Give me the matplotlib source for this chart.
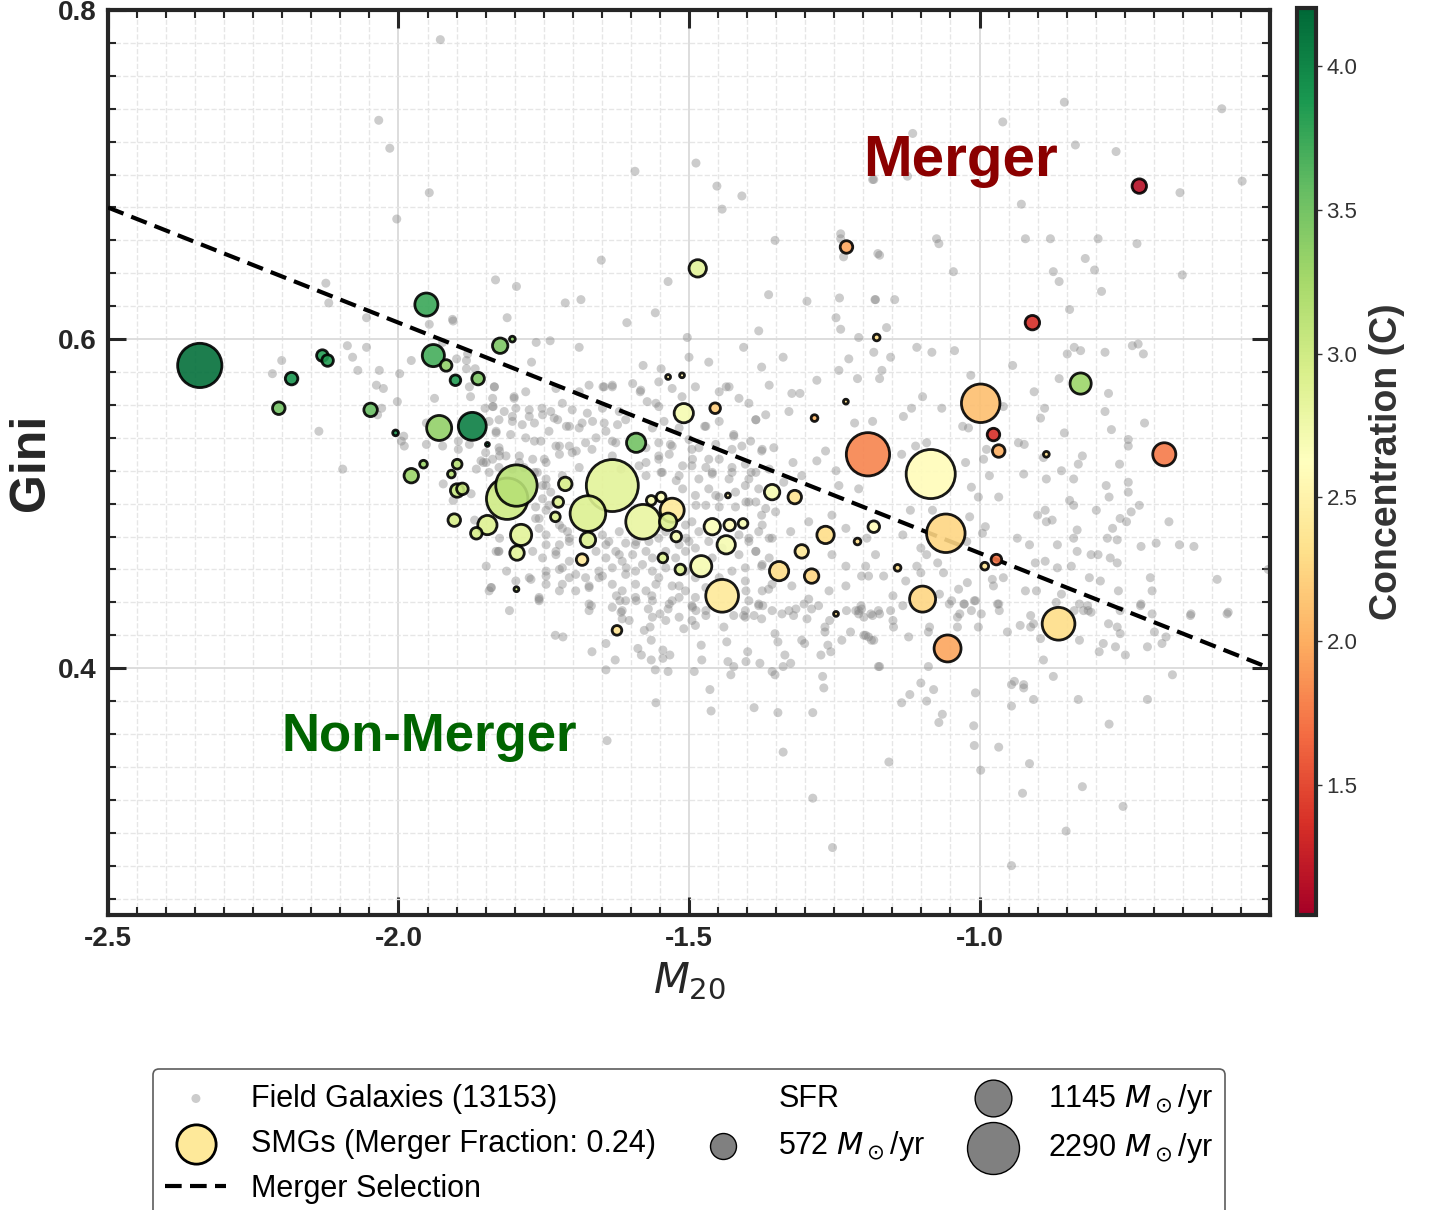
import numpy as np
import matplotlib
matplotlib.use('Agg')
import matplotlib.pyplot as plt
from matplotlib.lines import Line2D
from matplotlib.ticker import MultipleLocator

plt.rcParams['font.family'] = ['Liberation Sans', 'DejaVu Sans']
plt.rcParams['axes.unicode_minus'] = False
plt.rcParams['mathtext.fontset'] = 'dejavusans'

# field galaxies (M20, Gini)
field_xy = [
    (-1.928, 0.782), (-2.034, 0.733), (-2.015, 0.716), (-1.947, 0.689), (-2.003, 0.673),
    (-1.833, 0.636), (-2.125, 0.634), (-2.120, 0.622), (-2.055, 0.613), (-1.907, 0.612),
    (-1.593, 0.702), (-1.488, 0.707), (-1.452, 0.693), (-1.409, 0.687), (-1.443, 0.679),
    (-1.184, 0.697), (-1.651, 0.648), (-1.352, 0.660), (-1.239, 0.664), (-1.239, 0.661),
    (-1.234, 0.650), (-1.175, 0.652), (-1.797, 0.632), (-1.536, 0.635), (-1.713, 0.622),
    (-1.686, 0.624), (-1.558, 0.616), (-1.813, 0.613), (-1.363, 0.627), (-1.297, 0.623),
    (-1.241, 0.625), (-1.180, 0.624), (-1.247, 0.613),
    (-0.854, 0.744), (-0.583, 0.740), (-0.960, 0.732), (-1.115, 0.725), (-0.835, 0.718),
    (-0.765, 0.714), (-1.182, 0.697), (-1.124, 0.699), (-0.548, 0.696), (-0.655, 0.689),
    (-0.928, 0.682), (-1.074, 0.661), (-1.070, 0.658), (-0.921, 0.661), (-0.878, 0.661),
    (-0.796, 0.661), (-0.729, 0.658), (-1.172, 0.651), (-0.818, 0.649), (-1.045, 0.641),
    (-0.873, 0.641), (-0.802, 0.642), (-0.863, 0.635), (-0.651, 0.639), (-0.790, 0.629),
    (-1.179, 0.624), (-1.146, 0.624), (-0.845, 0.618),
    (-1.906, 0.611), (-1.947, 0.609), (-2.088, 0.596), (-2.055, 0.595), (-2.079, 0.589),
    (-2.201, 0.587), (-1.978, 0.587), (-1.900, 0.588), (-1.883, 0.587), (-1.924, 0.598),
    (-1.881, 0.591), (-2.217, 0.579), (-2.070, 0.581), (-2.033, 0.581), (-1.998, 0.579),
    (-1.883, 0.582), (-1.868, 0.582), (-2.038, 0.572), (-2.026, 0.570), (-1.878, 0.571),
    (-1.876, 0.565), (-2.002, 0.562), (-1.938, 0.564), (-1.851, 0.558), (-1.838, 0.559),
    (-2.029, 0.558), (-2.036, 0.554), (-2.137, 0.544), (-1.991, 0.541), (-1.995, 0.538),
    (-1.990, 0.535), (-1.952, 0.536), (-1.924, 0.535), (-1.897, 0.538), (-1.897, 0.533),
    (-1.878, 0.536), (-1.832, 0.544), (-1.826, 0.532), (-1.854, 0.525), (-2.096, 0.521),
    (-1.866, 0.521), (-1.844, 0.519), (-1.923, 0.512), (-1.875, 0.506), (-1.906, 0.502),
    (-1.869, 0.490), (-1.828, 0.471), (-1.840, 0.449), (-1.952, 0.549), (-1.835, 0.510),
    (-1.607, 0.610), (-1.380, 0.605), (-1.239, 0.606), (-1.763, 0.598), (-1.739, 0.599),
    (-1.689, 0.595), (-1.503, 0.601), (-1.406, 0.595), (-1.208, 0.601), (-1.500, 0.589),
    (-1.338, 0.589), (-1.225, 0.588), (-1.771, 0.586), (-1.579, 0.584), (-1.548, 0.582),
    (-1.466, 0.586), (-1.375, 0.583), (-1.242, 0.581), (-1.210, 0.576), (-1.835, 0.571),
    (-1.801, 0.564), (-1.837, 0.559), (-1.804, 0.553), (-1.775, 0.553), (-1.753, 0.558),
    (-1.732, 0.552), (-1.711, 0.547), (-1.684, 0.549), (-1.646, 0.549), (-1.632, 0.571),
    (-1.648, 0.571), (-1.584, 0.568), (-1.552, 0.559), (-1.512, 0.565), (-1.473, 0.547),
    (-1.436, 0.571), (-1.385, 0.551), (-1.323, 0.567), (-1.309, 0.567), (-1.280, 0.575),
    (-1.215, 0.549), (-1.328, 0.556), (-1.423, 0.541), (-1.409, 0.535), (-1.375, 0.532),
    (-1.321, 0.525), (-1.280, 0.526), (-1.265, 0.532), (-1.723, 0.535), (-1.766, 0.538),
    (-1.826, 0.529), (-1.849, 0.525), (-1.792, 0.529), (-1.749, 0.527), (-1.694, 0.532),
    (-1.667, 0.533), (-1.632, 0.529), (-1.552, 0.529), (-1.529, 0.535), (-1.495, 0.533),
    (-1.466, 0.527), (-1.548, 0.519), (-1.586, 0.523), (-1.632, 0.538), (-1.617, 0.521),
    (-1.522, 0.514), (-1.495, 0.523), (-1.460, 0.519), (-1.426, 0.519), (-1.393, 0.519),
    (-1.337, 0.513), (-1.306, 0.517), (-1.247, 0.520), (-1.242, 0.511), (-1.208, 0.509),
    (-1.454, 0.505), (-1.402, 0.501), (-1.385, 0.501), (-1.375, 0.493), (-1.488, 0.499),
    (-1.761, 0.519), (-1.746, 0.511), (-1.741, 0.499), (-1.758, 0.491), (-1.718, 0.485),
    (-1.706, 0.479), (-1.729, 0.471), (-1.643, 0.475), (-1.620, 0.469), (-1.591, 0.477),
    (-1.574, 0.471), (-1.608, 0.461), (-1.552, 0.455), (-1.517, 0.450), (-1.505, 0.479),
    (-1.495, 0.489), (-1.397, 0.479), (-1.385, 0.471), (-1.375, 0.462), (-1.357, 0.479),
    (-1.325, 0.483), (-1.294, 0.489), (-1.254, 0.493), (-1.230, 0.485), (-1.194, 0.479),
    (-1.179, 0.469), (-1.230, 0.462), (-1.254, 0.469), (-1.203, 0.456), (-1.230, 0.450),
    (-1.259, 0.447), (-1.294, 0.442), (-1.323, 0.450), (-1.363, 0.448), (-1.402, 0.447),
    (-1.380, 0.438), (-1.328, 0.435), (-1.277, 0.438), (-1.208, 0.435), (-1.844, 0.447),
    (-1.814, 0.459), (-1.775, 0.455), (-1.746, 0.456), (-1.723, 0.447), (-1.706, 0.455),
    (-1.672, 0.450), (-1.649, 0.456), (-1.625, 0.444), (-1.591, 0.441), (-1.564, 0.444),
    (-1.529, 0.441), (-1.495, 0.438), (-1.758, 0.442), (-1.672, 0.435), (-1.615, 0.435),
    (-1.809, 0.435), (-1.849, 0.462), (-1.832, 0.471), (-1.826, 0.479),
    (-1.160, 0.607), (-1.182, 0.592), (-1.153, 0.589), (-1.108, 0.595), (-1.082, 0.592),
    (-1.043, 0.593), (-0.837, 0.595), (-0.826, 0.593), (-0.849, 0.591), (-0.784, 0.592),
    (-0.737, 0.596), (-0.727, 0.597), (-0.718, 0.591), (-0.943, 0.584), (-0.863, 0.576),
    (-0.906, 0.568), (-0.778, 0.567), (-1.168, 0.581), (-1.172, 0.576), (-1.098, 0.565),
    (-1.015, 0.578), (-1.117, 0.558), (-1.065, 0.558), (-1.131, 0.553), (-1.184, 0.550),
    (-1.029, 0.547), (-1.019, 0.546), (-0.959, 0.559), (-0.888, 0.558), (-0.895, 0.552),
    (-0.784, 0.556), (-0.854, 0.543), (-0.773, 0.545), (-0.716, 0.549), (-0.744, 0.539),
    (-0.744, 0.535), (-0.933, 0.537), (-0.923, 0.536), (-1.110, 0.535), (-1.091, 0.537),
    (-1.134, 0.530), (-0.988, 0.533), (-0.993, 0.527), (-1.024, 0.525), (-0.890, 0.528),
    (-0.823, 0.529), (-0.830, 0.524), (-0.759, 0.524), (-0.859, 0.520), (-0.924, 0.518),
    (-0.983, 0.517), (-0.885, 0.515), (-0.838, 0.515), (-0.744, 0.513), (-0.744, 0.507),
    (-0.782, 0.511), (-0.777, 0.504), (-1.014, 0.510), (-0.967, 0.504), (-1.002, 0.504),
    (-1.119, 0.496), (-1.081, 0.496), (-0.887, 0.496), (-0.845, 0.502), (-0.838, 0.499),
    (-0.799, 0.496), (-0.739, 0.495), (-0.725, 0.499), (-0.900, 0.493), (-0.875, 0.490),
    (-0.885, 0.489), (-0.832, 0.484), (-0.758, 0.491), (-0.747, 0.489), (-0.771, 0.485),
    (-0.674, 0.489), (-1.017, 0.492), (-0.990, 0.486), (-0.995, 0.482), (-1.022, 0.477),
    (-0.935, 0.479), (-0.914, 0.475), (-0.866, 0.475), (-0.838, 0.479), (-0.780, 0.479),
    (-0.763, 0.478), (-0.722, 0.474), (-0.696, 0.476), (-0.656, 0.475), (-0.631, 0.474),
    (-0.808, 0.469), (-0.796, 0.469), (-0.775, 0.467), (-0.763, 0.464), (-0.832, 0.471),
    (-0.866, 0.461), (-0.904, 0.464), (-0.887, 0.465), (-0.842, 0.462), (-0.811, 0.455),
    (-0.792, 0.453), (-0.706, 0.455), (-0.591, 0.454), (-0.503, 0.460), (-1.132, 0.481),
    (-1.101, 0.473), (-1.091, 0.469), (-1.072, 0.464), (-1.127, 0.453), (-1.165, 0.456),
    (-1.191, 0.456), (-1.196, 0.462), (-1.108, 0.462), (-1.101, 0.458), (-1.062, 0.458),
    (-1.036, 0.448), (-1.021, 0.452), (-0.978, 0.454), (-0.959, 0.455), (-1.007, 0.441),
    (-0.976, 0.450), (-0.921, 0.447), (-0.902, 0.447), (-0.859, 0.445), (-0.828, 0.439),
    (-0.813, 0.435), (-0.761, 0.447), (-0.703, 0.447), (-0.722, 0.439), (-0.636, 0.433),
    (-0.572, 0.434), (-1.069, 0.445), (-1.052, 0.439), (-1.026, 0.439), (-0.969, 0.439),
    (-1.149, 0.444), (-1.132, 0.438), (-1.174, 0.435), (-1.208, 0.433), (-1.034, 0.433),
    (-1.203, 0.436), (-1.184, 0.432), (-1.172, 0.433), (-1.153, 0.435), (-1.149, 0.429),
    (-1.148, 0.425), (-1.199, 0.420), (-1.191, 0.419), (-1.182, 0.417), (-1.122, 0.419),
    (-1.086, 0.425), (-1.088, 0.422), (-1.048, 0.441), (-1.027, 0.439), (-1.014, 0.435),
    (-1.009, 0.441), (-0.997, 0.433), (-1.038, 0.431), (-1.038, 0.425), (-1.002, 0.425),
    (-0.967, 0.439), (-0.966, 0.435), (-0.952, 0.422), (-0.930, 0.426), (-0.912, 0.432),
    (-0.907, 0.427), (-0.912, 0.425), (-0.895, 0.418), (-0.868, 0.440), (-0.837, 0.435),
    (-0.821, 0.435), (-0.808, 0.434), (-0.828, 0.417), (-0.814, 0.438), (-0.778, 0.427),
    (-0.763, 0.425), (-0.758, 0.421), (-0.787, 0.415), (-0.766, 0.413), (-0.749, 0.408),
    (-0.794, 0.410), (-0.758, 0.435), (-0.723, 0.438), (-0.703, 0.433), (-0.699, 0.422),
    (-0.679, 0.419), (-0.686, 0.415), (-0.711, 0.413), (-0.637, 0.432), (-0.574, 0.433),
    (-0.890, 0.405), (-1.172, 0.401), (-1.088, 0.401), (-0.873, 0.395), (-0.668, 0.396),
    (-1.101, 0.391), (-1.079, 0.387), (-1.120, 0.384), (-1.134, 0.379), (-1.091, 0.380),
    (-1.007, 0.385), (-0.945, 0.390), (-0.940, 0.392), (-0.924, 0.390), (-0.924, 0.388),
    (-0.907, 0.381), (-0.830, 0.381), (-0.711, 0.381), (-0.945, 0.377), (-1.064, 0.372),
    (-1.070, 0.367), (-1.010, 0.365), (-0.777, 0.366), (-1.009, 0.353), (-0.967, 0.352),
    (-1.156, 0.343), (-0.914, 0.342), (-0.998, 0.338), (-0.823, 0.328), (-0.926, 0.324),
    (-0.753, 0.316), (-0.851, 0.301), (-0.945, 0.280),
    (-1.758, 0.441), (-1.668, 0.438), (-1.619, 0.441), (-1.570, 0.436), (-1.550, 0.433),
    (-1.536, 0.436), (-1.617, 0.434), (-1.615, 0.430), (-1.730, 0.420), (-1.717, 0.419),
    (-1.667, 0.410), (-1.643, 0.415), (-1.627, 0.405), (-1.643, 0.399), (-1.577, 0.423),
    (-1.567, 0.425), (-1.588, 0.412), (-1.582, 0.408), (-1.565, 0.417), (-1.565, 0.405),
    (-1.558, 0.399), (-1.545, 0.411), (-1.545, 0.406), (-1.533, 0.408), (-1.536, 0.398),
    (-1.509, 0.424), (-1.495, 0.429), (-1.488, 0.435), (-1.479, 0.414), (-1.478, 0.405),
    (-1.491, 0.398), (-1.464, 0.387), (-1.462, 0.374), (-1.471, 0.432), (-1.440, 0.425),
    (-1.435, 0.416), (-1.433, 0.404), (-1.423, 0.401), (-1.428, 0.396), (-1.402, 0.404),
    (-1.399, 0.410), (-1.423, 0.432), (-1.406, 0.432), (-1.388, 0.432), (-1.375, 0.430),
    (-1.397, 0.441), (-1.373, 0.438), (-1.378, 0.403), (-1.357, 0.398), (-1.352, 0.396),
    (-1.352, 0.421), (-1.347, 0.416), (-1.338, 0.401), (-1.335, 0.408), (-1.325, 0.403),
    (-1.340, 0.433), (-1.320, 0.432), (-1.316, 0.436), (-1.302, 0.439), (-1.297, 0.430),
    (-1.289, 0.436), (-1.306, 0.417), (-1.301, 0.415), (-1.273, 0.408), (-1.266, 0.425),
    (-1.266, 0.422), (-1.261, 0.414), (-1.256, 0.410), (-1.258, 0.429), (-1.237, 0.417),
    (-1.222, 0.422), (-1.229, 0.435), (-1.213, 0.435), (-1.204, 0.438), (-1.199, 0.431),
    (-1.187, 0.433), (-1.196, 0.420), (-1.186, 0.417), (-1.174, 0.401), (-1.270, 0.395),
    (-1.268, 0.388), (-1.388, 0.376), (-1.347, 0.373), (-1.287, 0.373), (-1.338, 0.349),
    (-1.287, 0.321), (-1.253, 0.291), (-1.557, 0.379), (-1.641, 0.356),
]

# extra field galaxies in the crowded core
field_core = [
    (-1.835, 0.571), (-1.801, 0.565), (-1.781, 0.568), (-1.729, 0.570), (-1.689, 0.568),
    (-1.672, 0.572), (-1.646, 0.571), (-1.632, 0.572), (-1.597, 0.573), (-1.583, 0.569),
    (-1.552, 0.574), (-1.572, 0.562), (-1.557, 0.561), (-1.529, 0.570), (-1.489, 0.571),
    (-1.448, 0.568), (-1.431, 0.571), (-1.414, 0.564), (-1.397, 0.561), (-1.362, 0.572),
    (-1.818, 0.556), (-1.798, 0.558), (-1.775, 0.557), (-1.752, 0.554), (-1.738, 0.556),
    (-1.718, 0.561), (-1.701, 0.557), (-1.675, 0.555), (-1.649, 0.558), (-1.620, 0.556),
    (-1.838, 0.564), (-1.844, 0.550), (-1.827, 0.551), (-1.804, 0.550), (-1.787, 0.548),
    (-1.766, 0.549), (-1.741, 0.544), (-1.726, 0.551), (-1.706, 0.547), (-1.689, 0.546),
    (-1.666, 0.550), (-1.643, 0.544), (-1.623, 0.548), (-1.609, 0.551), (-1.563, 0.546),
    (-1.543, 0.550), (-1.517, 0.546), (-1.471, 0.547), (-1.448, 0.550), (-1.423, 0.542),
    (-1.385, 0.551), (-1.368, 0.554), (-1.832, 0.543), (-1.807, 0.542), (-1.781, 0.540),
    (-1.755, 0.538), (-1.729, 0.535), (-1.706, 0.535), (-1.678, 0.537), (-1.660, 0.540),
    (-1.626, 0.537), (-1.574, 0.534), (-1.552, 0.537), (-1.532, 0.536), (-1.500, 0.539),
    (-1.483, 0.534), (-1.454, 0.536), (-1.426, 0.533), (-1.394, 0.538), (-1.374, 0.533),
    (-1.354, 0.534), (-1.850, 0.531), (-1.827, 0.534), (-1.858, 0.526), (-1.838, 0.527),
    (-1.815, 0.529), (-1.792, 0.525), (-1.769, 0.527), (-1.746, 0.525), (-1.723, 0.530),
    (-1.701, 0.531), (-1.689, 0.522), (-1.718, 0.517), (-1.746, 0.515), (-1.766, 0.519),
    (-1.784, 0.522), (-1.804, 0.521), (-1.827, 0.522), (-1.574, 0.525), (-1.552, 0.527),
    (-1.534, 0.530), (-1.511, 0.523), (-1.494, 0.527), (-1.471, 0.522), (-1.448, 0.527),
    (-1.426, 0.522), (-1.403, 0.524), (-1.385, 0.519), (-1.362, 0.521), (-1.574, 0.517),
    (-1.546, 0.519), (-1.517, 0.517), (-1.483, 0.515), (-1.460, 0.518), (-1.431, 0.515),
    (-1.397, 0.515), (-1.752, 0.511), (-1.738, 0.507), (-1.752, 0.503), (-1.764, 0.498),
    (-1.746, 0.496), (-1.511, 0.509), (-1.489, 0.505), (-1.466, 0.509), (-1.448, 0.504),
    (-1.420, 0.507), (-1.403, 0.511), (-1.380, 0.509), (-1.471, 0.499), (-1.448, 0.498),
    (-1.420, 0.498), (-1.397, 0.501), (-1.368, 0.497), (-1.351, 0.495), (-1.764, 0.491),
    (-1.758, 0.485), (-1.746, 0.481), (-1.723, 0.487), (-1.709, 0.483), (-1.706, 0.477),
    (-1.746, 0.475), (-1.723, 0.475), (-1.649, 0.481), (-1.638, 0.477), (-1.620, 0.483),
    (-1.609, 0.476), (-1.592, 0.475), (-1.569, 0.477), (-1.552, 0.479), (-1.540, 0.483),
    (-1.517, 0.475), (-1.500, 0.477), (-1.483, 0.483), (-1.466, 0.477), (-1.414, 0.481),
    (-1.397, 0.477), (-1.380, 0.483), (-1.362, 0.479), (-1.374, 0.487), (-1.506, 0.487),
    (-1.827, 0.471), (-1.769, 0.471), (-1.752, 0.467), (-1.729, 0.469), (-1.706, 0.465),
    (-1.718, 0.461), (-1.660, 0.471), (-1.643, 0.467), (-1.626, 0.471), (-1.615, 0.465),
    (-1.597, 0.469), (-1.580, 0.463), (-1.563, 0.467), (-1.540, 0.471), (-1.523, 0.467),
    (-1.506, 0.471), (-1.489, 0.473), (-1.460, 0.467), (-1.443, 0.473), (-1.414, 0.469),
    (-1.385, 0.471), (-1.362, 0.467), (-1.746, 0.459), (-1.723, 0.460), (-1.695, 0.457),
    (-1.678, 0.455), (-1.655, 0.459), (-1.632, 0.461), (-1.609, 0.457), (-1.592, 0.459),
    (-1.563, 0.459), (-1.540, 0.461), (-1.506, 0.459), (-1.489, 0.455), (-1.448, 0.455),
    (-1.426, 0.459), (-1.403, 0.461), (-1.374, 0.463), (-1.841, 0.449), (-1.798, 0.453),
    (-1.772, 0.454), (-1.758, 0.443), (-1.746, 0.451), (-1.718, 0.451), (-1.695, 0.447),
    (-1.672, 0.449), (-1.655, 0.455), (-1.632, 0.451), (-1.615, 0.447), (-1.592, 0.451),
    (-1.574, 0.447), (-1.557, 0.451), (-1.529, 0.450), (-1.506, 0.447), (-1.489, 0.443),
    (-1.471, 0.449), (-1.403, 0.453), (-1.374, 0.447), (-1.357, 0.451), (-1.672, 0.439),
    (-1.632, 0.437), (-1.609, 0.441), (-1.592, 0.443), (-1.563, 0.441), (-1.534, 0.439),
    (-1.517, 0.443), (-1.494, 0.437), (-1.471, 0.435), (-1.403, 0.435), (-1.380, 0.439),
    (-1.357, 0.435), (-1.603, 0.429), (-1.563, 0.431), (-1.540, 0.429), (-1.517, 0.431),
    (-1.489, 0.426), (-1.403, 0.431),
]
n_field = 13153

# SMGs: M20, Gini, concentration and SFR (Msun/yr)
smg_m20 = [-2.342, -1.952, -1.485, -1.229, -0.725, -2.131, -2.122, -2.184, -2.206, -2.048,
           -2.005, -1.940, -1.918, -1.902, -1.863, -1.825, -1.804, -1.930, -1.873, -1.847,
           -1.957, -1.978, -1.899, -1.909, -1.899, -1.890, -1.904, -1.866, -1.847, -1.797,
           -1.813, -1.789, -1.796, -1.797, -1.713, -1.725, -1.730, -1.674, -1.674, -1.684,
           -1.632, -1.591, -1.579, -1.565, -1.548, -1.529, -1.536, -1.522, -1.545, -1.515,
           -1.509, -1.536, -1.512, -1.455, -1.479, -1.443, -1.460, -1.430, -1.407, -1.436,
           -1.433, -1.357, -1.318, -1.265, -1.306, -1.345, -1.289, -1.210, -1.284, -1.230,
           -1.192, -1.177, -1.182, -1.247, -0.909, -0.826, -0.998, -0.976, -0.967, -0.885,
           -0.682, -1.084, -1.058, -1.141, -0.991, -0.971, -1.098, -0.864, -1.055, -1.624]
smg_gini = [0.584, 0.621, 0.643, 0.656, 0.693, 0.590, 0.587, 0.576, 0.558, 0.557,
            0.543, 0.590, 0.584, 0.575, 0.576, 0.596, 0.600, 0.546, 0.547, 0.536,
            0.524, 0.517, 0.524, 0.518, 0.508, 0.509, 0.490, 0.482, 0.487, 0.511,
            0.503, 0.481, 0.470, 0.448, 0.512, 0.501, 0.492, 0.494, 0.478, 0.466,
            0.511, 0.537, 0.489, 0.502, 0.504, 0.496, 0.489, 0.480, 0.467, 0.460,
            0.555, 0.577, 0.578, 0.558, 0.462, 0.444, 0.486, 0.487, 0.488, 0.475,
            0.505, 0.507, 0.504, 0.481, 0.471, 0.459, 0.456, 0.477, 0.552, 0.562,
            0.530, 0.601, 0.486, 0.433, 0.610, 0.573, 0.561, 0.542, 0.532, 0.530,
            0.530, 0.518, 0.482, 0.461, 0.462, 0.466, 0.442, 0.427, 0.412, 0.423]
smg_conc = [4.15, 3.75, 2.85, 1.95, 1.15, 3.85, 3.85, 3.9, 3.5, 3.55,
            3.9, 3.7, 3.35, 3.85, 3.45, 3.45, 3.4, 3.35, 4.05, 4.0,
            3.3, 3.3, 3.15, 3.15, 3.05, 3.05, 2.95, 2.95, 2.9, 3.15,
            3.0, 2.85, 2.85, 3.0, 2.95, 2.9, 2.9, 2.9, 2.9, 2.4,
            2.85, 3.5, 2.8, 2.7, 2.65, 2.4, 2.9, 2.7, 2.9, 2.9,
            2.7, 2.5, 2.5, 2.2, 2.7, 2.4, 2.65, 2.6, 2.7, 2.7,
            2.5, 2.7, 2.35, 2.3, 2.4, 2.3, 2.25, 2.3, 2.05, 2.3,
            1.8, 2.3, 2.6, 2.3, 1.35, 3.3, 2.1, 1.35, 2.0, 2.3,
            1.75, 2.6, 2.25, 2.3, 2.35, 1.72, 2.25, 2.3, 1.95, 2.35]
smg_sfr = [1662, 452, 255, 133, 177, 113, 113, 133, 133, 154,
           28, 415, 113, 95, 133, 201, 28, 531, 661, 13,
           50, 177, 79, 50, 154, 113, 133, 113, 314, 1452,
           1452, 380, 177, 20, 154, 95, 79, 1075, 201, 113,
           2290, 314, 1018, 79, 79, 491, 255, 95, 79, 95,
           314, 20, 20, 95, 380, 908, 227, 113, 79, 284,
           20, 201, 154, 255, 154, 314, 177, 38, 38, 20,
           1590, 38, 113, 20, 177, 380, 1257, 133, 133, 28,
           452, 2043, 1257, 38, 50, 95, 573, 908, 616, 79]
merger_frac = 0.24
sfr_legend = [572, 1145, 2290]

# Lotz et al. merger line  G = -0.14 M20 + 0.33
sel_slope, sel_icept = -0.14, 0.33

max_size = 1400.0
sfr_max = 2290.0

fig = plt.figure(figsize=(14.32, 12.10), dpi=100)
ax = fig.add_axes([0.0754, 0.2438, 0.8115, 0.7479])
cax = fig.add_axes([0.9057, 0.2438, 0.0133, 0.7496])

fxy = np.array(field_xy + field_core)
ax.scatter(fxy[:, 0], fxy[:, 1], s=42, c='gray', alpha=0.4,
           edgecolors='none', zorder=2)

line_x = np.array([-2.5, -0.5])
ax.plot(line_x, sel_slope * line_x + sel_icept, color='black', lw=3,
        dashes=(4, 2), zorder=3)

m20 = np.array(smg_m20)
gini = np.array(smg_gini)
conc = np.array(smg_conc)
sfr = np.array(smg_sfr)
order = np.argsort(-sfr)
sc = ax.scatter(m20[order], gini[order], s=sfr[order] / sfr_max * max_size,
                c=conc[order], cmap='RdYlGn', vmin=1.05, vmax=4.2,
                edgecolors='black', linewidths=2, alpha=0.9, zorder=4)

ax.text(-1.033, 0.708, 'Merger', color='#8B0000', fontsize=42,
        fontweight='bold', ha='center', va='center', zorder=5)
ax.text(-1.947, 0.358, 'Non-Merger', color='#006400', fontsize=38,
        fontweight='bold', ha='center', va='center', zorder=5)

ax.set_xlim(-2.5, -0.5)
ax.set_ylim(0.25, 0.8)
ax.set_xticks([-2.5, -2.0, -1.5, -1.0])
ax.set_yticks([0.4, 0.6, 0.8])
ax.xaxis.set_minor_locator(MultipleLocator(0.05))
ax.yaxis.set_minor_locator(MultipleLocator(0.02))
ax.tick_params(which='major', direction='in', length=13, width=2.2,
               top=True, right=True, labelsize=20, pad=8, colors='#262626')
ax.tick_params(which='minor', direction='in', length=6, width=1.5,
               top=True, right=True, colors='#262626')
for lab in ax.get_xticklabels() + ax.get_yticklabels():
    lab.set_fontweight('bold')
ax.grid(which='major', color='#dadada', lw=1.3, ls='-')
ax.grid(which='minor', color='#e6e6e6', lw=1.0, ls='--')
ax.set_axisbelow(True)
for sp in ax.spines.values():
    sp.set_linewidth(3)
    sp.set_color('#262626')

ax.set_xlabel('$M_{20}$', fontsize=30, labelpad=6, color='#262626')
ax.set_ylabel('Gini', fontsize=36, fontweight='bold', labelpad=3, color='#262626')

cb = fig.colorbar(sc, cax=cax)
cb.solids.set_alpha(1)
cb.outline.set_linewidth(3)
cb.outline.set_edgecolor('#262626')
cb.set_ticks([1.5, 2.0, 2.5, 3.0, 3.5, 4.0])
cb.ax.tick_params(labelsize=16, length=4, width=1, colors='#333333')
cb.set_label('Concentration (C)', fontsize=27, fontweight='bold',
             color='#333333', labelpad=8)

# legend
h_field = ax.scatter([], [], s=42, c='gray', alpha=0.4, edgecolors='none')
h_smg = ax.scatter([], [], s=800, c='#fee99a', edgecolors='black', linewidths=2)
h_line = Line2D([], [], color='black', lw=3, dashes=(4, 2))
h_title = Line2D([], [], linestyle='none')
h_sfr = [ax.scatter([], [], s=v / sfr_max * max_size, c='gray',
                    edgecolors='black', linewidths=1) for v in sfr_legend]
handles = [h_field, h_smg, h_line, h_title] + h_sfr
labels = ['Field Galaxies (%d)' % n_field,
          'SMGs (Merger Fraction: %.2f)' % merger_frac,
          'Merger Selection', 'SFR'] + ['%d $M_\\odot$/yr' % v for v in sfr_legend]
leg = ax.legend(handles, labels, loc='upper center', bbox_to_anchor=(0.5, -0.1536),
                ncol=3, fontsize=22, frameon=True, fancybox=True,
                columnspacing=1.2, labelspacing=0.5, handletextpad=0.8)
leg.get_frame().set_edgecolor('#333333')
leg.get_frame().set_linewidth(1.2)

fig.savefig('out.png', dpi=100)
